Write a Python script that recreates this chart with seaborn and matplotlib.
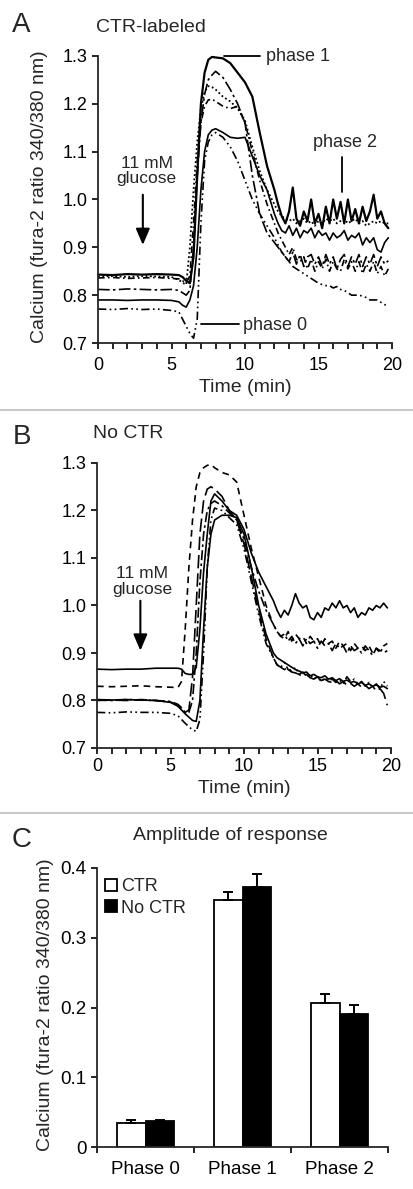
import pandas as pd
import matplotlib
matplotlib.use('Agg')
import matplotlib.pyplot as plt
from matplotlib.lines import Line2D
import seaborn as sns

# ---- data ----
time_min = [0, 1, 2, 3, 4, 5, 5.5, 5.75,
            6, 6.25, 6.5, 6.75, 7, 7.25, 7.5, 7.75,
            8, 8.5, 9, 9.5, 10, 10.5, 11, 11.5,
            12, 12.25, 12.5, 12.75, 13, 13.25, 13.5, 13.75,
            14, 14.25, 14.5, 14.75, 15, 15.25, 15.5, 15.75,
            16, 16.25, 16.5, 16.75, 17, 17.25, 17.5, 17.75,
            18, 18.25, 18.5, 18.75, 19, 19.25, 19.5, 19.75]

# panel A: CTR-labeled cells
a_solid_hi = [0.843, 0.842, 0.844, 0.843, 0.844, 0.843, 0.842, 0.838,
              0.830, 0.825, 0.880, 1.050, 1.200, 1.265, 1.292, 1.298,
              1.297, 1.295, 1.285, 1.265, 1.245, 1.215, 1.140, 1.070,
              1.020, 0.990, 0.965, 0.950, 0.975, 1.025, 0.960, 0.945,
              0.975, 0.955, 1.000, 0.950, 0.970, 0.940, 0.985, 0.950,
              1.000, 0.960, 0.995, 0.950, 1.000, 0.955, 0.980, 0.950,
              0.985, 0.955, 0.975, 1.010, 0.960, 0.975, 0.950, 0.940]
a_dot = [0.839, 0.840, 0.838, 0.840, 0.839, 0.838, 0.832, 0.826,
         0.822, 0.900, 1.020, 1.120, 1.190, 1.225, 1.237, 1.235,
         1.230, 1.215, 1.205, 1.190, 1.165, 1.110, 1.060, 1.020,
         0.990, 0.975, 0.965, 0.960, 0.955, 0.960, 0.950, 0.955,
         0.960, 0.950, 0.955, 0.945, 0.955, 0.950, 0.960, 0.955,
         0.960, 0.950, 0.955, 0.960, 0.950, 0.955, 0.960, 0.950,
         0.955, 0.945, 0.950, 0.955, 0.950, 0.955, 0.950, 0.950]
a_dashdot = [0.812, 0.811, 0.813, 0.812, 0.811, 0.812, 0.810, 0.805,
             0.800, 0.810, 0.900, 1.050, 1.160, 1.220, 1.250, 1.260,
             1.268, 1.255, 1.230, 1.200, 1.160, 1.050, 0.970, 0.930,
             0.910, 0.900, 0.890, 0.880, 0.870, 0.890, 0.865, 0.885,
             0.860, 0.880, 0.885, 0.865, 0.880, 0.860, 0.885, 0.865,
             0.880, 0.855, 0.875, 0.885, 0.860, 0.880, 0.865, 0.885,
             0.860, 0.880, 0.865, 0.885, 0.860, 0.880, 0.865, 0.872]
a_dashdot2 = [0.836, 0.837, 0.835, 0.836, 0.837, 0.835, 0.834, 0.830,
              0.826, 0.840, 0.950, 1.080, 1.160, 1.195, 1.208, 1.210,
              1.205, 1.195, 1.190, 1.195, 1.160, 1.100, 1.040, 0.990,
              0.950, 0.930, 0.915, 0.900, 0.885, 0.900, 0.875, 0.870,
              0.880, 0.855, 0.875, 0.850, 0.870, 0.855, 0.875, 0.850,
              0.870, 0.855, 0.850, 0.875, 0.855, 0.870, 0.850, 0.870,
              0.845, 0.865, 0.850, 0.870, 0.845, 0.860, 0.840, 0.855]
a_solid_lo = [0.790, 0.790, 0.789, 0.790, 0.790, 0.789, 0.786, 0.779,
              0.775, 0.790, 0.820, 0.900, 1.020, 1.100, 1.135, 1.145,
              1.148, 1.140, 1.130, 1.128, 1.130, 1.090, 1.050, 1.020,
              0.970, 0.950, 0.935, 0.930, 0.945, 0.925, 0.940, 0.920,
              0.935, 0.930, 0.940, 0.920, 0.935, 0.925, 0.930, 0.915,
              0.930, 0.920, 0.925, 0.935, 0.915, 0.925, 0.920, 0.930,
              0.905, 0.920, 0.910, 0.920, 0.895, 0.890, 0.910, 0.920]
a_dashdotdot = [0.771, 0.770, 0.772, 0.770, 0.771, 0.768, 0.765, 0.750,
                0.735, 0.720, 0.710, 0.750, 0.950, 1.080, 1.120, 1.135,
                1.140, 1.130, 1.110, 1.080, 1.040, 1.000, 0.970, 0.945,
                0.920, 0.905, 0.890, 0.880, 0.870, 0.860, 0.855, 0.850,
                0.845, 0.840, 0.835, 0.830, 0.825, 0.822, 0.820, 0.820,
                0.815, 0.818, 0.812, 0.810, 0.805, 0.800, 0.800, 0.800,
                0.798, 0.795, 0.790, 0.790, 0.790, 0.785, 0.780, 0.780]

# panel B: no CTR
b_solid_hi = [0.866, 0.865, 0.866, 0.866, 0.868, 0.868, 0.868, 0.866,
              0.857, 0.855, 0.855, 0.870, 0.950, 1.070, 1.150, 1.220,
              1.235, 1.220, 1.200, 1.190, 1.160, 1.110, 1.070, 1.040,
              1.010, 0.990, 0.975, 0.990, 0.980, 1.000, 1.025, 1.005,
              0.995, 1.000, 0.975, 0.970, 0.985, 0.975, 0.995, 0.990,
              1.005, 0.995, 1.010, 0.995, 1.000, 0.985, 0.995, 0.975,
              0.985, 0.980, 0.995, 0.990, 1.000, 0.995, 1.005, 0.995]
b_dash = [0.830, 0.829, 0.830, 0.831, 0.829, 0.828, 0.827, 0.840,
          0.950, 1.080, 1.180, 1.250, 1.280, 1.290, 1.295, 1.297,
          1.290, 1.280, 1.275, 1.260, 1.190, 1.120, 1.060, 1.000,
          0.960, 0.945, 0.935, 0.930, 0.945, 0.925, 0.940, 0.930,
          0.935, 0.920, 0.935, 0.925, 0.930, 0.915, 0.930, 0.920,
          0.925, 0.910, 0.925, 0.915, 0.920, 0.905, 0.920, 0.910,
          0.915, 0.905, 0.915, 0.900, 0.910, 0.905, 0.900, 0.905]
b_dashdot = [0.801, 0.800, 0.802, 0.801, 0.800, 0.798, 0.792, 0.785,
             0.775, 0.775, 0.800, 0.900, 1.050, 1.150, 1.200, 1.215,
             1.220, 1.210, 1.195, 1.180, 1.140, 1.080, 1.030, 0.990,
             0.960, 0.945, 0.935, 0.940, 0.925, 0.935, 0.920, 0.930,
             0.915, 0.930, 0.920, 0.925, 0.910, 0.925, 0.915, 0.920,
             0.905, 0.920, 0.910, 0.915, 0.900, 0.915, 0.905, 0.910,
             0.900, 0.915, 0.905, 0.895, 0.910, 0.900, 0.915, 0.920]
b_solid_lo = [0.802, 0.801, 0.802, 0.801, 0.800, 0.796, 0.788, 0.780,
              0.772, 0.765, 0.758, 0.756, 0.800, 0.950, 1.080, 1.150,
              1.180, 1.190, 1.190, 1.185, 1.150, 1.080, 1.000, 0.940,
              0.900, 0.890, 0.885, 0.880, 0.875, 0.870, 0.865, 0.862,
              0.858, 0.860, 0.852, 0.855, 0.850, 0.848, 0.852, 0.845,
              0.848, 0.842, 0.846, 0.840, 0.843, 0.838, 0.840, 0.835,
              0.838, 0.832, 0.835, 0.830, 0.833, 0.828, 0.830, 0.825]
b_dashdotdot = [0.775, 0.774, 0.776, 0.775, 0.775, 0.773, 0.768, 0.760,
                0.752, 0.745, 0.738, 0.735, 0.760, 0.900, 1.080, 1.180,
                1.205, 1.200, 1.185, 1.170, 1.120, 1.050, 0.980, 0.920,
                0.890, 0.875, 0.870, 0.880, 0.865, 0.860, 0.870, 0.855,
                0.860, 0.850, 0.855, 0.845, 0.850, 0.840, 0.848, 0.842,
                0.845, 0.838, 0.843, 0.835, 0.850, 0.840, 0.845, 0.835,
                0.840, 0.830, 0.838, 0.828, 0.835, 0.825, 0.840, 0.830]
b_longdash = [0.800, 0.801, 0.800, 0.802, 0.800, 0.797, 0.790, 0.782,
              0.775, 0.780, 0.850, 1.000, 1.150, 1.220, 1.245, 1.250,
              1.245, 1.230, 1.200, 1.180, 1.130, 1.060, 0.990, 0.930,
              0.890, 0.875, 0.870, 0.865, 0.870, 0.860, 0.858, 0.855,
              0.850, 0.855, 0.848, 0.845, 0.850, 0.842, 0.845, 0.840,
              0.838, 0.842, 0.835, 0.840, 0.832, 0.836, 0.830, 0.835,
              0.828, 0.832, 0.825, 0.830, 0.820, 0.825, 0.815, 0.790]

# panel C: amplitude of response
phases = ['Phase 0', 'Phase 1', 'Phase 2']
groups = ['CTR', 'No CTR']
ctr_amp = [0.034, 0.354, 0.207]
ctr_err = [0.004, 0.012, 0.012]
noctr_amp = [0.037, 0.373, 0.191]
noctr_err = [0.0015, 0.019, 0.013]

# ---- styling ----
sns.set_style('ticks')
plt.rcParams['font.family'] = ['Liberation Sans', 'DejaVu Sans']
plt.rcParams['axes.linewidth'] = 1.3
plt.rcParams['xtick.major.width'] = 1.2
plt.rcParams['ytick.major.width'] = 1.2
plt.rcParams['xtick.minor.width'] = 1.2

W, H = 413, 1189


def fx(px):
    return px / W


def fy(py):
    return 1 - py / H


def axes_box(left, top, right, bottom):
    return [fx(left), fy(bottom), fx(right) - fx(left), fy(top) - fy(bottom)]


fig = plt.figure(figsize=(W / 100, H / 100), dpi=100)

styles_a = [('-', 1.6), ((0, (1, 1.4)), 1.3), ((0, (7, 2, 1.5, 2)), 1.2),
            ((0, (4, 2, 1, 2)), 1.2), ('-', 1.2), ((0, (5, 2, 1, 2, 1, 2)), 1.2)]
styles_b = [('-', 1.2), ((0, (4, 3)), 1.2), ((0, (6, 2, 1.5, 2)), 1.2),
            ('-', 1.2), ((0, (5, 2, 1, 2, 1, 2)), 1.2), ((0, (8, 3)), 1.2)]


def draw_traces(ax, traces, styles):
    for vals, (ls, lw) in zip(traces, styles):
        sns.lineplot(x=time_min, y=vals, ax=ax, color='black', linestyle=ls,
                     linewidth=lw, estimator=None, sort=False, clip_on=False)


def style_trace_axes(ax, xpad, lpad):
    ax.set_xlim(0, 20)
    ax.set_ylim(0.7, 1.3)
    ax.set_xticks(range(0, 21))
    ax.set_xticklabels([str(i) if i % 5 == 0 else '' for i in range(21)])
    yt = [0.7, 0.8, 0.9, 1.0, 1.1, 1.2, 1.3]
    ax.set_yticks(yt)
    ax.set_yticklabels([f'{v:.1f}' for v in yt])
    sns.despine(ax=ax)
    ax.tick_params(axis='both', direction='out', length=4, labelsize=13, colors='black')
    ax.tick_params(axis='x', pad=xpad)
    ax.set_xlabel('Time (min)', fontsize=14, labelpad=lpad)
    ax.set_ylabel('')


def glucose_arrow(ax, x_arrow, x_text, y_text):
    ax.text(x_text, y_text, '11 mM\nglucose', ha='center', va='center',
            fontsize=12.5, linespacing=1.05)
    ax.annotate('', xy=(x_arrow, 0.905), xytext=(x_arrow, 1.01),
                arrowprops=dict(arrowstyle='-|>,head_width=0.3,head_length=0.7',
                                mutation_scale=14, lw=1.5, color='black',
                                shrinkA=0, shrinkB=0))


# ---- panel A ----
axA = fig.add_axes(axes_box(98, 56, 392, 343))
draw_traces(axA, [a_solid_hi, a_dot, a_dashdot, a_dashdot2, a_solid_lo, a_dashdotdot], styles_a)
style_trace_axes(axA, 6, 4)
glucose_arrow(axA, 3.05, 3.3, 1.06)
axA.plot([8.6, 11.0], [1.30, 1.30], color='black', lw=1.3, clip_on=False)
axA.text(11.4, 1.298, 'phase 1', ha='left', va='center', fontsize=13)
axA.plot([16.57, 16.57], [1.016, 1.089], color='black', lw=1.3)
axA.text(16.8, 1.12, 'phase 2', ha='center', va='center', fontsize=13)
axA.plot([7.0, 9.6], [0.74, 0.74], color='black', lw=1.3)
axA.text(9.85, 0.737, 'phase 0', ha='left', va='center', fontsize=13)

# ---- panel B ----
axB = fig.add_axes(axes_box(97, 463, 391, 748))
draw_traces(axB, [b_solid_hi, b_dash, b_dashdot, b_solid_lo, b_dashdotdot, b_longdash], styles_b)
style_trace_axes(axB, 3, 4)
glucose_arrow(axB, 2.95, 3.05, 1.05)

# ---- panel C ----
axC = fig.add_axes(axes_box(97, 868, 388, 1147))
df = pd.DataFrame({
    'phase': phases * 2,
    'group': [groups[0]] * 3 + [groups[1]] * 3,
    'amp': ctr_amp + noctr_amp,
})
sns.barplot(data=df, x='phase', y='amp', hue='group', order=phases, hue_order=groups,
            palette=['white', 'black'], edgecolor='black', linewidth=1.3,
            width=0.59, errorbar=None, legend=False, ax=axC)
bars = sorted([p for p in axC.patches if p.get_height() > 0], key=lambda p: p.get_x())
errs = [e for pair in zip(ctr_err, noctr_err) for e in pair]
for p, e in zip(bars, errs):
    xc = p.get_x() + p.get_width() / 2
    axC.errorbar(xc, p.get_height(), yerr=[[0], [e]], fmt='none', ecolor='black',
                 elinewidth=1.4, capsize=3.5, capthick=1.4, zorder=1)
axC.set_xlim(-0.5, 2.5)
axC.set_ylim(0, 0.4)
axC.set_yticks([0, 0.1, 0.2, 0.3, 0.4])
axC.set_yticklabels(['0', '0.1', '0.2', '0.3', '0.4'])
axC.set_xticks([-0.5, 0.5, 1.5, 2.5], minor=True)
axC.tick_params(axis='x', which='major', length=0, pad=10, labelsize=13.5, colors='black')
axC.tick_params(axis='x', which='minor', length=4, direction='out', colors='black')
axC.tick_params(axis='y', length=4, direction='out', labelsize=13.5, colors='black')
sns.despine(ax=axC)
axC.set_xlabel('')
axC.set_ylabel('')
handles = [Line2D([], [], marker='s', ls='', mfc='white', mec='black', mew=1.3, ms=8),
           Line2D([], [], marker='s', ls='', mfc='black', mec='black', mew=1.3, ms=8)]
axC.legend(handles, groups, loc='upper left', bbox_to_anchor=(-0.02, 1.015), frameon=False,
           fontsize=13, handlelength=0.6, handletextpad=0.25, labelspacing=0.25,
           borderaxespad=0.4)

# ---- figure-level text ----
ylab = 'Calcium (fura-2 ratio 340/380 nm)'
fig.text(fx(40), fy(197), ylab, rotation=90, ha='center', va='center', fontsize=14)
fig.text(fx(46), fy(1005), ylab, rotation=90, ha='center', va='center', fontsize=14)
fig.text(fx(21), fy(25), 'A', ha='center', va='center', fontsize=20)
fig.text(fx(22), fy(437), 'B', ha='center', va='center', fontsize=20)
fig.text(fx(22), fy(840), 'C', ha='center', va='center', fontsize=20)
fig.text(fx(96), fy(28), 'CTR-labeled', ha='left', va='center', fontsize=14)
fig.text(fx(93), fy(434), 'No CTR', ha='left', va='center', fontsize=14)
fig.text(fx(230), fy(835), 'Amplitude of response', ha='center', va='center', fontsize=14)
for ysep in (410, 813):
    fig.add_artist(Line2D([0, 1], [fy(ysep), fy(ysep)], transform=fig.transFigure,
                          color='#c8c8c8', lw=1.5))

fig.savefig('out.png', dpi=100)
